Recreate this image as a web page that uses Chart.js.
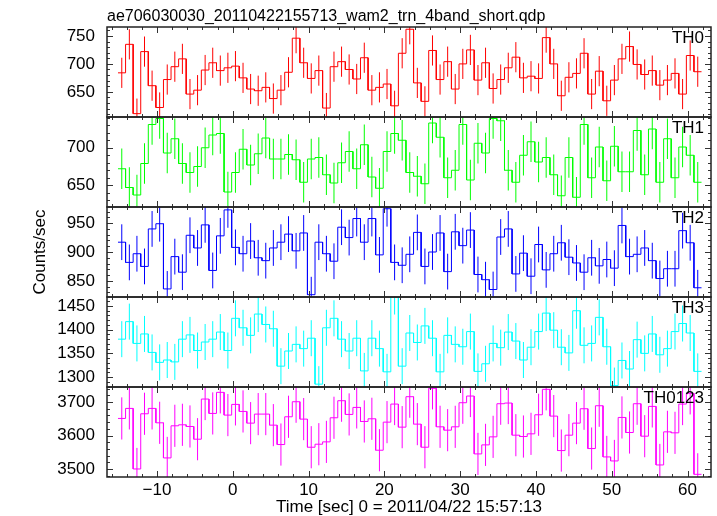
<!DOCTYPE html>
<html lang="en">
<head>
<meta charset="UTF-8">
<style>
  html, body { margin: 0; padding: 0; background: #fff; }
  #wrap { position: relative; width: 717px; height: 516px; }
</style>
</head>
<body>
<div id="wrap"><canvas id="myChart" width="717" height="516"></canvas></div>
<script src="https://cdn.jsdelivr.net/npm/chart.js"></script>
<script>
const TITLE = 'ae706030030_20110422155713_wam2_trn_4band_short.qdp';
const X_LABEL = 'Time [sec] 0 = 2011/04/22 15:57:13';
const Y_LABEL = 'Counts/sec';

// 1 s bins, left edge of the first one
const BIN_START = -15.15;
const BIN_WIDTH = 1.0;

const th0 = [684, 735, 611, 722, 661, 622, 672, 695, 709, 646, 653, 689, 702, 688, 693, 696, 675, 655, 652, 658,
  638, 653, 685, 746, 702, 674, 688, 621, 695, 704, 690, 673, 711, 653, 658, 664, 625, 719, 762, 666,
  633, 724, 672, 704, 655, 700, 725, 671, 702, 656, 672, 693, 712, 675, 678, 674, 747, 700, 643, 676,
  683, 719, 646, 687, 634, 671, 709, 731, 699, 681, 688, 662, 671, 683, 646, 715, 686];
const th1 = [672, 647, 637, 679, 731, 739, 693, 712, 679, 667, 675, 700, 717, 719, 641, 667, 698, 677, 692, 713,
  685, 685, 691, 684, 654, 685, 687, 664, 653, 680, 695, 672, 704, 661, 646, 695, 719, 710, 667, 662,
  652, 733, 714, 660, 670, 731, 657, 706, 693, 739, 736, 670, 654, 690, 708, 681, 687, 664, 636, 687,
  634, 731, 660, 701, 656, 702, 668, 668, 723, 664, 725, 654, 712, 660, 701, 690, 654];
const th2 = [917, 882, 897, 875, 940, 949, 836, 892, 865, 929, 907, 947, 868, 928, 973, 908, 897, 919, 890, 885,
  907, 917, 931, 902, 933, 826, 917, 897, 884, 943, 925, 958, 917, 958, 895, 975, 882, 877, 896, 934,
  875, 900, 933, 866, 935, 911, 938, 861, 852, 835, 926, 940, 862, 898, 858, 913, 869, 897, 916, 891,
  881, 865, 890, 876, 887, 872, 946, 892, 896, 907, 885, 854, 871, 871, 937, 916, 838];
const th3 = [1380, 1417, 1371, 1391, 1352, 1331, 1336, 1332, 1380, 1389, 1356, 1374, 1380, 1395, 1356, 1424, 1404, 1388, 1433, 1411,
  1402, 1323, 1355, 1369, 1360, 1382, 1285, 1404, 1424, 1380, 1355, 1382, 1313, 1382, 1360, 1311, 1470, 1323, 1393, 1373,
  1408, 1382, 1311, 1388, 1369, 1364, 1396, 1312, 1328, 1371, 1362, 1395, 1376, 1336, 1363, 1396, 1435, 1399, 1363, 1351,
  1440, 1367, 1371, 1426, 1364, 1282, 1335, 1317, 1379, 1350, 1391, 1347, 1360, 1396, 1413, 1393, 1312];
const th0123 = [3651, 3681, 3500, 3665, 3681, 3638, 3533, 3629, 3632, 3627, 3589, 3709, 3666, 3729, 3661, 3693, 3672, 3637, 3664, 3664,
  3631, 3573, 3656, 3701, 3649, 3565, 3574, 3581, 3653, 3704, 3663, 3684, 3642, 3650, 3556, 3640, 3694, 3625, 3716, 3634,
  3565, 3741, 3626, 3616, 3626, 3698, 3718, 3545, 3572, 3596, 3695, 3697, 3601, 3597, 3605, 3662, 3738, 3658, 3555, 3601,
  3637, 3680, 3561, 3689, 3536, 3524, 3654, 3609, 3695, 3598, 3687, 3512, 3611, 3608, 3694, 3726, 3484];

const PANELS = ['TH0', 'TH1', 'TH2', 'TH3', 'TH0123'];
const SERIES = [th0, th1, th2, th3, th0123];
const ERRORS = [27, 27, 31, 38, 63];
const COLORS = ['#ff0000', '#00ff00', '#0000ff', '#00ffff', '#ff00ff'];

const X_RANGE = [-16.6, 63.1];
const X_TICKS = [-10, 0, 10, 20, 30, 40, 50, 60];
const X_MINOR = 2;
const Y_RANGES = [[605, 766], [621, 741], [822, 978], [1279, 1469], [3476, 3745]];
const Y_TICKS = [[650, 700, 750], [650, 700], [850, 900, 950], [1300, 1350, 1400, 1450], [3500, 3600, 3700]];
const Y_MINOR = [10, 10, 10, 10, 20];

const FONT = '"Liberation Sans", Arial, Helvetica, sans-serif';

const ctx = document.getElementById('myChart');

const datasets = [];
SERIES.forEach((vals, i) => {
    // histogram steps
    datasets.push({
        data: vals.flatMap((v, k) => [
            {x: BIN_START + k * BIN_WIDTH, y: v},
            {x: BIN_START + (k + 1) * BIN_WIDTH, y: v}
        ]),
        yAxisID: 'y' + i,
        borderColor: COLORS[i],
        borderWidth: 1,
        pointRadius: 0,
        tension: 0
    });
    // error bars
    datasets.push({
        data: vals.flatMap((v, k) => {
            const c = BIN_START + (k + 0.5) * BIN_WIDTH;
            return [{x: c, y: v - ERRORS[i]}, {x: c, y: v + ERRORS[i]}, {x: c, y: null}];
        }),
        yAxisID: 'y' + i,
        borderColor: COLORS[i],
        borderWidth: 1,
        pointRadius: 0,
        spanGaps: false
    });
});

const scales = {
    x: {
        type: 'linear',
        position: 'bottom',
        min: X_RANGE[0],
        max: X_RANGE[1],
        grid: {display: false},
        border: {display: false},
        ticks: {
            color: '#000',
            font: {family: FONT, size: 17},
            padding: -5,
            maxRotation: 0,
            autoSkip: false,
            callback: v => String(v).replace('-', '\u2212')
        },
        afterBuildTicks: s => { s.ticks = X_TICKS.map(v => ({value: v})); },
        afterFit: s => { s.height = 39; }
    }
};
// last defined axis goes on top of the stack
for (let i = PANELS.length - 1; i >= 0; i--) {
    scales['y' + i] = {
        type: 'linear',
        position: 'left',
        stack: 'panels',
        stackWeight: 1,
        offset: false,
        min: Y_RANGES[i][0],
        max: Y_RANGES[i][1],
        grid: {display: false},
        border: {display: false},
        ticks: {color: '#000', font: {family: FONT, size: 17}, padding: 4, autoSkip: false, callback: v => String(v)},
        afterBuildTicks: s => { s.ticks = Y_TICKS[i].map(v => ({value: v})); },
        afterFit: s => { s.width = 107; }
    };
}

// qdp style frame: inward ticks on all four sides, panel names, titles
const qdpFrame = {
    id: 'qdpFrame',
    afterDatasetsDraw(chart) {
        const c = chart.ctx;
        const xs = chart.scales.x;
        c.save();
        PANELS.forEach((name, i) => {
            const ys = chart.scales['y' + i];
            const top = ys.top, bot = ys.bottom, left = xs.left, right = xs.right;
            c.strokeStyle = '#333';
            c.lineWidth = 1;
            c.beginPath();
            for (let v = Math.ceil(X_RANGE[0] / X_MINOR) * X_MINOR; v <= X_RANGE[1]; v += X_MINOR) {
                const px = Math.round(xs.getPixelForValue(v)) + 0.5;
                const len = X_TICKS.includes(v) ? 6 : 3;
                c.moveTo(px, bot); c.lineTo(px, bot - len);
                c.moveTo(px, top); c.lineTo(px, top + len);
            }
            const step = Y_MINOR[i];
            for (let v = Math.ceil(ys.min / step) * step; v <= ys.max; v += step) {
                const py = Math.round(ys.getPixelForValue(v)) + 0.5;
                const len = Y_TICKS[i].includes(v) ? 6 : 3;
                c.moveTo(left, py); c.lineTo(left + len, py);
                c.moveTo(right, py); c.lineTo(right - len, py);
            }
            c.stroke();
            c.strokeStyle = '#222';
            c.lineWidth = 1.5;
            c.strokeRect(left, top, right - left, bot - top);

            c.fillStyle = '#000';
            c.font = '17px ' + FONT;
            c.textAlign = 'right';
            c.textBaseline = 'alphabetic';
            c.fillText(name, right - 7, top + 16);
        });

        c.fillStyle = '#000';
        c.font = '16px ' + FONT;
        c.textAlign = 'left';
        c.textBaseline = 'alphabetic';
        c.fillText(TITLE, xs.left, 21);

        c.font = '17px ' + FONT;
        c.textAlign = 'center';
        c.fillText(X_LABEL, (xs.left + xs.right) / 2, 512);

        const mid = (chart.scales.y0.top + chart.scales.y4.bottom) / 2;
        c.translate(40, mid);
        c.rotate(-Math.PI / 2);
        c.textBaseline = 'middle';
        c.fillText(Y_LABEL, 0, 0);
        c.restore();
    }
};

window.myChart = new Chart(ctx, {
    type: 'line',
    data: {datasets: datasets},
    options: {
        responsive: false,
        animation: false,
        layout: {padding: {top: 27, right: 6, left: 0, bottom: 0}},
        plugins: {legend: {display: false}, tooltip: {enabled: false}, title: {display: false}},
        scales: scales
    },
    plugins: [qdpFrame]
});
</script>
</body>
</html>
